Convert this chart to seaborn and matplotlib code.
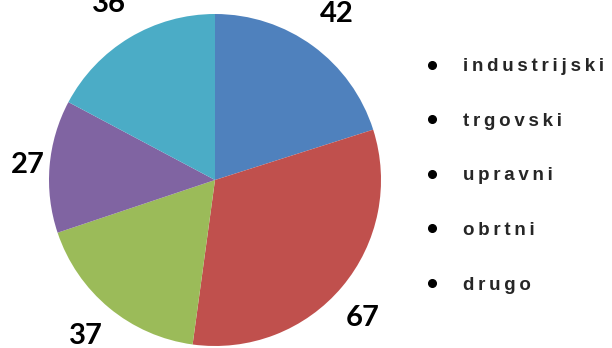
import numpy as np
import matplotlib
matplotlib.use("Agg")
import matplotlib.pyplot as plt
from matplotlib.lines import Line2D
import seaborn as sns

categories = ["industrijski", "trgovski", "upravni", "obrtni", "drugo"]
values = [42, 67, 37, 27, 36]
slice_colors = ["#4F81BD", "#C0504D", "#9BBB59", "#8064A2", "#4BACC6"]
label_dist = [1.24, 1.22, 1.22, 1.13, 1.24]
label_ang_shift = [0, -3, 0, 0, 0]

sns.set_theme(style="white")
palette = sns.color_palette(slice_colors)

fig = plt.figure(figsize=(6.12, 3.48), dpi=100)
cx, cy, r = 215, 168, 166
W, H = 612, 348
ax = fig.add_axes([(cx - r) / W, (cy - r) / H, 2 * r / W, 2 * r / H])
wedges, _ = ax.pie(values, colors=palette, startangle=90, counterclock=False,
                   wedgeprops=dict(linewidth=0))
ax.set_xlim(-1, 1)
ax.set_ylim(-1, 1)
ax.set_aspect("equal")
ax.axis("off")

for w, v, d, s in zip(wedges, values, label_dist, label_ang_shift):
    ang = np.deg2rad((w.theta1 + w.theta2) / 2 + s)
    ax.text(d * np.cos(ang), d * np.sin(ang), str(v), ha="center", va="center",
            fontsize=21, fontweight="bold", family=["Lato", "DejaVu Sans"],
            color="black", clip_on=False)

def spaced(s):
    return "\u2009".join(s)

handles = [Line2D([], [], marker="o", color="black", linestyle="none", markersize=5.5)
           for _ in categories]
leg = fig.legend(handles, [spaced(c) for c in categories],
                 loc="upper left", bbox_to_anchor=(413 / W, 1 - 58 / H),
                 frameon=False, borderpad=0, borderaxespad=0,
                 handlelength=2.0, handletextpad=0.65, labelspacing=2.0,
                 prop=dict(family=["Liberation Sans", "DejaVu Sans"], weight="bold", size=13.5))

fig.savefig("out.png", dpi=100)
